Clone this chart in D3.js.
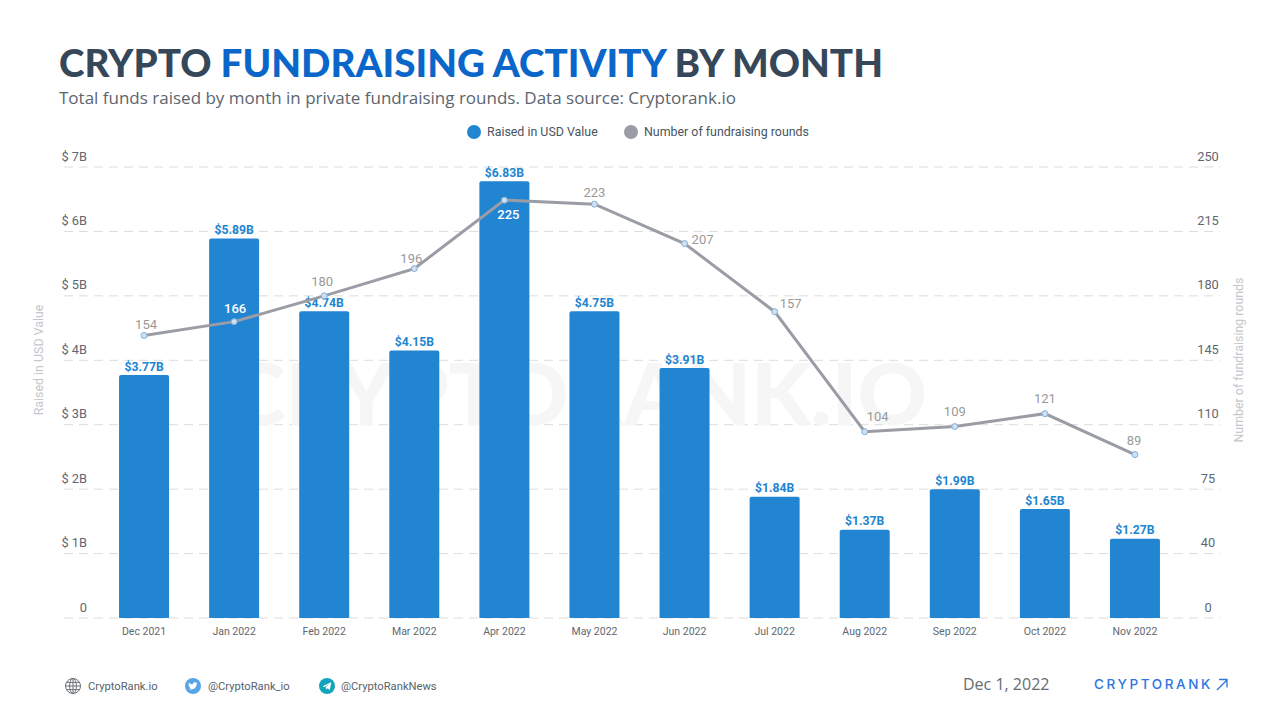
<!DOCTYPE html>
<html>
<head>
<meta charset="utf-8">
<title>Crypto fundraising activity by month</title>
<script src="https://cdn.jsdelivr.net/npm/d3@7/dist/d3.min.js"></script>
<style>
  html, body { margin: 0; padding: 0; background: #fff; }
  svg { display: block; }
  text { font-family: Roboto, sans-serif; }
  .domain { display: none; }
</style>
</head>
<body>
<svg id="chart" width="1280" height="720"></svg>
<script>
const months = ["Dec 2021", "Jan 2022", "Feb 2022", "Mar 2022", "Apr 2022", "May 2022",
  "Jun 2022", "Jul 2022", "Aug 2022", "Sep 2022", "Oct 2022", "Nov 2022"];

// printed labels
const raised = [3.77, 5.89, 4.74, 4.15, 6.83, 4.75, 3.91, 1.84, 1.37, 1.99, 1.65, 1.27];
const rounds = [154, 166, 180, 196, 225, 223, 207, 157, 104, 109, 121, 89];

// the marks do not sit exactly on their printed values, so these are read off the axes
const raisedOnAxis = [3.77, 5.89, 4.76, 4.15, 6.78, 4.76, 3.88, 1.88, 1.37, 2.0, 1.69, 1.23];
const roundsOnAxis = [158.5, 166, 180, 194.8, 232, 229.8, 208.4, 171.4, 106.2, 109, 116, 93.8];

const leftTicks = [0, 1, 2, 3, 4, 5, 6, 7];
const rightTicks = [0, 40, 75, 110, 145, 180, 215, 250];

const svg = d3.select("#chart");

const blue = "#2285d2";
const lineGrey = "#9a9ca6";

const x = d3.scaleBand().domain(months).range([99, 1180]).paddingInner(0.445).paddingOuter(0.2225);

const yLeft = d3.scaleLinear().domain([0, 7]).range([618, 167]);

// right axis ticks are evenly spaced but not evenly valued
const yRight = d3.scaleLinear().domain(rightTicks).range(rightTicks.map((d, i) => yLeft(i)));

/**
 * Title block
 */
const title = svg.append("text")
  .attr("x", 59).attr("y", 77)
  .style("font-family", "Lato").style("font-weight", 900).style("font-size", "38.6px")
  .attr("fill", "#36475a");
title.append("tspan").text("CRYPTO ");
title.append("tspan").attr("fill", "#0a66c8").text("FUNDRAISING ACTIVITY");
title.append("tspan").text(" BY MONTH");

svg.append("text")
  .attr("x", 59).attr("y", 104)
  .style("font-family", "Open Sans").style("font-size", "17px")
  .attr("fill", "#5b6570")
  .text("Total funds raised by month in private fundraising rounds. Data source: Cryptorank.io");

/**
 * Legend
 */
const legend = [
  { name: "Raised in USD Value", color: blue, cx: 474 },
  { name: "Number of fundraising rounds", color: lineGrey, cx: 631 },
];
legend.forEach((d) => {
  svg.append("circle").attr("cx", d.cx).attr("cy", 132).attr("r", 7).attr("fill", d.color);
  svg.append("text").attr("x", d.cx + 13).attr("y", 136)
    .style("font-size", "12.4px").attr("fill", "#4a5560").text(d.name);
});

/**
 * Grid and watermark
 */
svg.append("g").selectAll("line").data(leftTicks).join("line")
  .attr("x1", 64).attr("x2", 1220)
  .attr("y1", (d) => yLeft(d)).attr("y2", (d) => yLeft(d))
  .attr("stroke", "#dcdcdc").attr("stroke-dasharray", "9 6");

svg.append("text")
  .attr("x", 578).attr("y", 425).attr("text-anchor", "middle")
  .style("font-family", "Lato").style("font-weight", 900).style("font-size", "86px")
  .attr("fill", "#f6f6f6")
  .text("CRYPTORANK.IO");

/**
 * Axes
 */
const axisLeft = d3.axisLeft(yLeft).tickValues(leftTicks).tickSize(0).tickPadding(0)
  .tickFormat((d) => d === 0 ? "0" : `$ ${d}B`);
const gLeft = svg.append("g").attr("transform", "translate(87,0)").call(axisLeft);
gLeft.selectAll("text").attr("y", -11).attr("dy", "0.32em")
  .style("font-size", "12.8px").attr("fill", "#5f6770");

const axisRight = d3.axisRight(yRight).tickValues(rightTicks).tickSize(0).tickPadding(0);
const gRight = svg.append("g").attr("transform", "translate(1208,0)").call(axisRight);
gRight.selectAll("text").attr("text-anchor", "middle").attr("y", -11).attr("dy", "0.32em")
  .style("font-size", "12.8px").attr("fill", "#5f6770");

const axisBottom = d3.axisBottom(x).tickSize(0).tickPadding(10);
const gBottom = svg.append("g").attr("transform", "translate(0,618)").call(axisBottom);
gBottom.selectAll("text").style("font-size", "10.5px").attr("fill", "#5f6770");

svg.append("text")
  .attr("transform", "translate(43,360) rotate(-90)").attr("text-anchor", "middle")
  .style("font-size", "12.4px").attr("fill", "#c3c7cb").text("Raised in USD Value");
svg.append("text")
  .attr("transform", "translate(1243,360) rotate(-90)").attr("text-anchor", "middle")
  .style("font-size", "12.4px").attr("fill", "#c3c7cb").text("Number of fundraising rounds");

/**
 * Bars and their labels
 */
svg.append("g").selectAll("path").data(months).join("path")
  .attr("fill", blue)
  .attr("d", (d, i) => {
    const left = x(d), w = x.bandwidth(), top = yLeft(raisedOnAxis[i]), r = 2;
    return `M${left},618V${top + r}Q${left},${top} ${left + r},${top}H${left + w - r}Q${left + w},${top} ${left + w},${top + r}V618Z`;
  });

svg.append("g").selectAll("text").data(months).join("text")
  .attr("x", (d) => x(d) + x.bandwidth() / 2)
  .attr("y", (d, i) => yLeft(raisedOnAxis[i]) - 4.5)
  .attr("text-anchor", "middle")
  .style("font-size", "12.2px").style("font-weight", 700)
  .attr("fill", blue)
  .text((d, i) => `$${raised[i].toFixed(2)}B`);

/**
 * Rounds line
 */
const line = d3.line()
  .x((d) => x(d) + x.bandwidth() / 2)
  .y((d, i) => yRight(roundsOnAxis[i]));

svg.append("path")
  .attr("d", line(months))
  .attr("fill", "none").attr("stroke", lineGrey).attr("stroke-width", 3);

svg.append("g").selectAll("circle").data(months).join("circle")
  .attr("cx", (d) => x(d) + x.bandwidth() / 2)
  .attr("cy", (d, i) => yRight(roundsOnAxis[i]))
  .attr("r", 3)
  .attr("fill", "#cfe0f0").attr("stroke", "#7fb0dc").attr("stroke-width", 1);

// label placement relative to each point, chosen by hand
const labelDx = [2, 1, -2, -3, 4, 0, 18, 16, 13, 0, 0, -1];
const labelDy = [-6, -9, -10, -6, 19, -7, 0, -4, -11, -11, -11, -10];
const onBar = [166, 225];

svg.append("g").selectAll("text").data(months).join("text")
  .attr("x", (d, i) => x(d) + x.bandwidth() / 2 + labelDx[i])
  .attr("y", (d, i) => yRight(roundsOnAxis[i]) + labelDy[i])
  .attr("text-anchor", "middle")
  .style("font-size", "13px")
  .style("font-weight", (d, i) => onBar.includes(rounds[i]) ? 500 : 400)
  .attr("fill", (d, i) => onBar.includes(rounds[i]) ? "#fff" : "#9a9a9a")
  .text((d, i) => rounds[i]);

/**
 * Footer
 */
const footer = svg.append("g");

const globe = footer.append("g").attr("transform", "translate(73,686)")
  .attr("fill", "none").attr("stroke", "#6c737a");
globe.append("circle").attr("r", 7.5);
globe.append("ellipse").attr("rx", 3.4).attr("ry", 7.5);
globe.append("path").attr("d", "M-7.5,0H7.5M-6.5,-3.6H6.5M-6.5,3.6H6.5M0,-7.5V7.5");

footer.append("circle").attr("cx", 193).attr("cy", 686).attr("r", 8).attr("fill", "#56a5e6");
footer.append("path")
  .attr("transform", "translate(193,686) scale(0.42) translate(-12,-12)")
  .attr("fill", "#fff")
  .attr("d", "M23 5c-.8.4-1.7.6-2.6.7.9-.6 1.6-1.4 2-2.5-.9.5-1.9.9-2.9 1.1C18.700 3.500 17.500 3 16.200 3c-2.500 0-4.600 2.100-4.600 4.600 0 .4 0 .7.100 1C7.900 8.400 4.500 6.600 2.200 3.800c-.4.700-.6 1.500-.6 2.300 0 1.600.8 3 2 3.800-.8 0-1.500-.2-2.100-.6v.1c0 2.200 1.600 4.100 3.700 4.500-.4.100-.8.200-1.200.2-.3 0-.6 0-.9-.1.600 1.800 2.300 3.200 4.300 3.200-1.600 1.200-3.600 2-5.700 2-.4 0-.7 0-1.100-.1C2.600 19.400 5 20.100 7.600 20.100c8.500 0 13.100-7 13.100-13.100v-.6c.9-.6 1.700-1.400 2.300-2.400z");

footer.append("circle").attr("cx", 327).attr("cy", 686).attr("r", 8).attr("fill", "#12a3bd");
footer.append("path")
  .attr("transform", "translate(327,686)")
  .attr("fill", "#fff")
  .attr("d", "M-4.500,0.300L4.300,-3.700L2.800,4L0.300,2.200L-1,3.600L-1.300,1.200L2.300,-2L-2.300,0.900Z");

const links = [
  { text: "CryptoRank.io", x: 88 },
  { text: "@CryptoRank_io", x: 208 },
  { text: "@CryptoRankNews", x: 341 },
];
footer.selectAll("text.link").data(links).join("text")
  .attr("class", "link")
  .attr("x", (d) => d.x).attr("y", 690)
  .style("font-size", "11.2px").attr("fill", "#58626c")
  .text((d) => d.text);

footer.append("text")
  .attr("x", 963).attr("y", 690)
  .style("font-family", "Open Sans").style("font-size", "16px")
  .attr("fill", "#666c73")
  .text("Dec 1, 2022");

footer.append("text")
  .attr("x", 1094).attr("y", 689)
  .style("font-family", "Inter").style("font-size", "13.5px").style("font-weight", 500)
  .style("letter-spacing", "2.6px")
  .attr("fill", "#2f74e0")
  .text("CRYPTORANK");

footer.append("path")
  .attr("d", "M1217,690L1227,680M1219,679.500H1227V687.500")
  .attr("fill", "none").attr("stroke", "#2f74e0").attr("stroke-width", 1.3);
</script>
</body>
</html>
